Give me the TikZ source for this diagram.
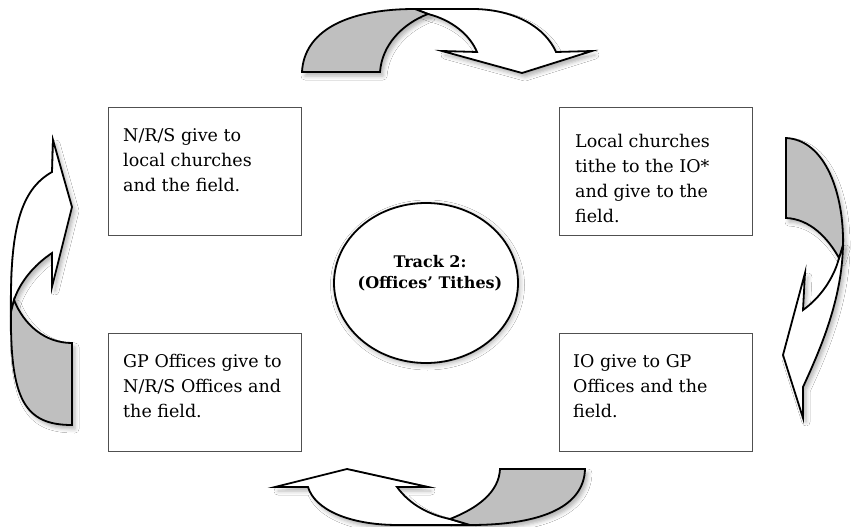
\documentclass[tikz,border=0pt]{standalone}
\usepackage{fontspec}
\setmainfont{DejaVu Serif}
\usetikzlibrary{shapes.geometric,shadows.blur}
\definecolor{arrowgray}{RGB}{191,191,191}
\definecolor{boxline}{RGB}{80,80,80}
\newcommand\boxfont{\fontsize{17.5}{25}\selectfont}
\newcommand\trackfont{\fontsize{16}{21}\selectfont\bfseries}
\newcommand\firstline{\rule{0pt}{14pt}}
% arrow outlines (pixel coordinates, y downward)
\def\topW{(415,9) -- (475,9) .. controls (515,10) and (545,27) .. (556,52) -- (592,51) -- (522,73) -- (442,51) -- (477,52) .. controls (470,35) and (452,20) .. (428,14) -- cycle}
\def\topG{(302,72) .. controls (304,32) and (345,9) .. (415,9) -- (428,14) .. controls (402,24) and (382,45) .. (380,72) -- cycle}
\def\rightW{(843,245) .. controls (842,300) and (820,350) .. (803,387) -- (803,418) -- (783,355) -- (805,273) -- (803,310) .. controls (820,298) and (834,278) .. (839,258) -- cycle}
\def\rightG{(786,138) .. controls (826,140) and (844,195) .. (843,245) -- (839,258) .. controls (828,238) and (810,219) .. (786,218) -- cycle}
\def\leftW{(11,312) .. controls (10,230) and (20,190) .. (52,172) -- (53,140) -- (72,207) -- (52,287) -- (52,253) .. controls (34,265) and (20,282) .. (14,300) -- cycle}
\def\leftG{(72,343) .. controls (45,343) and (24,325) .. (14,300) -- (11,312) .. controls (10,400) and (25,425) .. (72,425) -- cycle}
\def\botW{(470,525) -- (398,525) .. controls (350,525) and (315,510) .. (308,487) -- (275,487) -- (347,469) -- (428,487) -- (397,487) .. controls (410,505) and (430,515) .. (450,519) -- cycle}
\def\botG{(500,469) -- (585,469) .. controls (584,505) and (545,525) .. (470,525) -- (450,519) .. controls (478,508) and (499,492) .. (500,469) -- cycle}
\begin{document}
\begin{tikzpicture}[x=1pt,y=-1pt,
  txtbox/.style={draw=boxline, line width=1.4pt, fill=white, inner sep=0pt, anchor=north west, minimum width=193pt},
  tallbox/.style={txtbox, minimum height=128pt},
  lowbox/.style={txtbox, minimum height=118pt},
  btext/.style={anchor=north west, inner sep=0pt, align=left, font=\boxfont},
  trackell/.style={ellipse, draw=black, line width=1.8pt, fill=white, minimum width=184pt, minimum height=160pt, inner sep=0pt,
    blur shadow={shadow xshift=1.5pt, shadow yshift=-2pt, shadow blur radius=5pt, shadow opacity=35}},
  ttext/.style={align=center, inner sep=0pt, font=\trackfont},
  ashadow/.style={blur shadow={shadow xshift=3pt, shadow yshift=-4pt, shadow blur radius=4pt, shadow opacity=30}},
  arrw/.style={fill=white, draw=black, line width=1.8pt},
  arrg/.style={fill=arrowgray, draw=black, line width=1.8pt}]
\useasboundingbox (0,0) rectangle (852,527);
\fill[white] (0,0) rectangle (852,527);

% shadows of the curved arrows
\path[ashadow] \topW; \path[ashadow] \topG;
\path[ashadow] \rightW; \path[ashadow] \rightG;
\path[ashadow] \leftW; \path[ashadow] \leftG;
\path[ashadow] \botW; \path[ashadow] \botG;

% curved arrows
\draw[arrw] \topW;   \draw[arrg] \topG;
\draw[arrw] \rightW; \draw[arrg] \rightG;
\draw[arrw] \leftW;  \draw[arrg] \leftG;
\draw[arrw] \botW;   \draw[arrg] \botG;

% boxes
\node[tallbox] (tl) at (108,107) {};
\node[tallbox] (tr) at (559,107) {};
\node[lowbox]  (bl) at (108,333) {};
\node[lowbox]  (br) at (559,333) {};

\node[btext] (tltext) at (123,127) {\firstline N/R/S give to\\local churches\\and the field.};
\node[btext] (trtext) at (575,133) {\firstline Local churches\\tithe to the IO*\\and give to the\\field.};
\node[btext] (bltext) at (123,353) {\firstline GP Offices give to\\N/R/S Offices and\\the field.};
\node[btext] (brtext) at (573,353) {\firstline IO give to GP\\Offices and the\\field.};

% centre
\node[trackell] (track) at (426,283) {};
\node[ttext] (tracktext) at (430,273) {Track 2:\\(Offices’ Tithes)};
\end{tikzpicture}
\end{document}
